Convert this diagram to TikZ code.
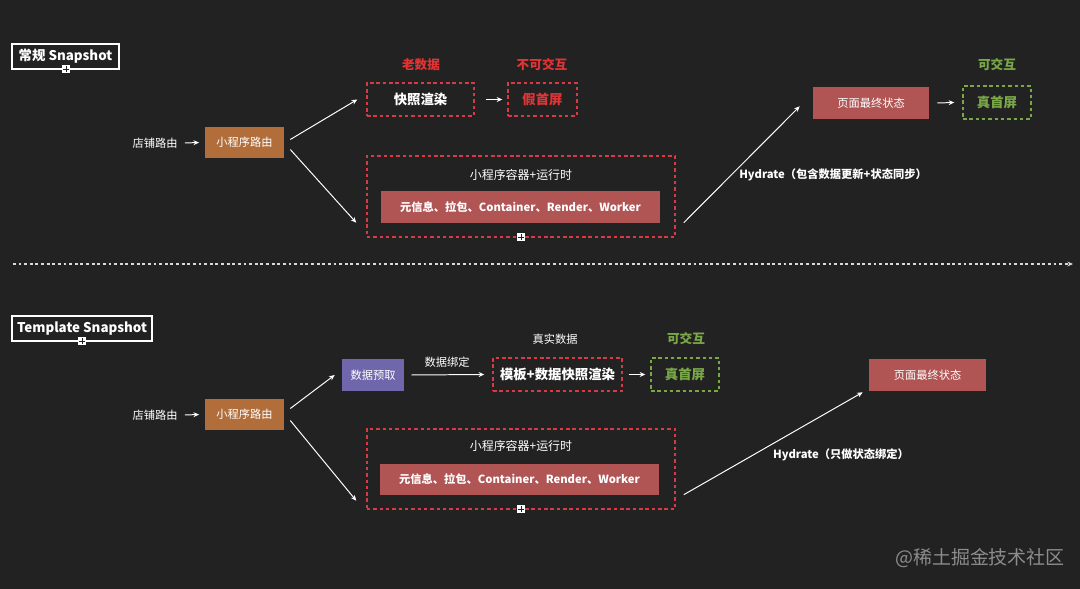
\documentclass[tikz,border=0pt]{standalone}
\usepackage{fontspec}
\setmainfont{Noto Sans CJK SC}
\usepackage{xcolor}
\usepackage{tikz}
\usetikzlibrary{arrows.meta, positioning}
\definecolor{bgdark}{RGB}{34,34,34}
\definecolor{dashred}{RGB}{214,58,68}
\definecolor{txtred}{RGB}{226,52,52}
\definecolor{fillred}{RGB}{176,84,84}
\definecolor{routebrown}{RGB}{178,110,58}
\definecolor{fetchpurple}{RGB}{112,102,172}
\definecolor{okgreen}{RGB}{122,168,72}
\newcommand{\fsz}[1]{\fontsize{#1}{#1}\selectfont}

\begin{document}
\begin{tikzpicture}[x=0.025cm, y=-0.025cm,
  txt/.style={text=white, font=\fsz{8}, inner sep=1pt},
  hint/.style={font=\bfseries\fsz{9}, inner sep=1pt},
  titlebox/.style={draw=white, line width=0.9pt, text=white, font=\bfseries\fsz{9.5},
    minimum width=#1, minimum height=0.625cm, inner sep=0pt},
  solidbox/.style={fill=#1, text=white, minimum height=0.8cm, inner sep=0pt, font=\fsz{8}},
  dashbox/.style={draw=#1, dashed, dash pattern=on 2.5pt off 2pt, line width=1pt,
    minimum height=0.825cm, inner sep=0pt, font=\bfseries\fsz{9.5}},
  plusmark/.style={fill=white, minimum size=0.2cm, inner sep=0pt,
    path picture={\draw[bgdark, line width=0.6pt]
      ([yshift=-1pt]path picture bounding box.north) -- ([yshift=1pt]path picture bounding box.south)
      ([xshift=1pt]path picture bounding box.west) -- ([xshift=-1pt]path picture bounding box.east);}},
  arr/.style={-{Stealth[length=4pt, width=3.5pt]}, white, line width=0.7pt}]

  \fill[bgdark] (0,0) rectangle (1080,589);
  \useasboundingbox (0,0) rectangle (1080,589);

  % ---- regular snapshot ----
  \node[titlebox=2.675cm] (title1) at (65.5,56.5) {常规 Snapshot};
  \node[plusmark] (pm1) at (66,69) {};

  \node[txt] (shop1) at (155,143) {店铺路由};
  \node[solidbox=routebrown, minimum width=1.975cm, minimum height=0.775cm] (route1) at (244.5,142.5) {小程序路由};
  \draw[arr] ([xshift=4pt]shop1.east) -- ([xshift=-4pt]route1.west);

  \node[dashbox=dashred, minimum width=2.675cm, text=white] (snap1) at (420.5,99.5) {快照渲染};
  \node[dashbox=dashred, minimum width=1.725cm, text=txtred] (fake1) at (542.5,99.5) {假首屏};
  \node[hint, text=txtred] (old1) at (421,65) {老数据};
  \node[hint, text=txtred] (noint1) at (542,65) {不可交互};
  \draw[arr] ([shift={(11,0)}]snap1.east) -- ([shift={(-5,0)}]fake1.west);

  % container + runtime
  \node[dashbox=dashred, minimum width=7.7cm, minimum height=2.025cm] (cont1) at (521,196.5) {};
  \node[txt, font=\fsz{8.5}] (contlbl1) at (521,175) {小程序容器+运行时};
  \node[solidbox=fillred, minimum width=6.975cm, font=\bfseries\fsz{8}] (meta1) at (520.5,207)
    {元信息、拉包、Container、Render、Worker};
  \node[plusmark] (pm2) at (521,237) {};

  \draw[arr] ([shift={(6,-3)}]route1.east) -- ([shift={(-9,0)}]snap1.west);
  \draw[arr] ([shift={(6,7)}]route1.east) -- ([shift={(-10,-15)}]cont1.south west);

  % hydrate to final state
  \node[solidbox=fillred, minimum width=2.9cm] (final1) at (871,103) {页面最终状态};
  \node[dashbox=okgreen, minimum width=1.7cm, text=okgreen] (real1) at (997,102.5) {真首屏};
  \node[hint, text=okgreen] (ok1) at (997,65) {可交互};
  \draw[arr] ([shift={(8,-15)}]cont1.south east) -- ([shift={(-13,-13)}]final1.south west);
  \node[txt, font=\bfseries\fsz{8}] (hyd1) at (833,175) {Hydrate（包含数据更新+状态同步）};
  \draw[arr] ([shift={(8,0)}]final1.east) -- ([shift={(-8,0)}]real1.west);

  % separator
  \coordinate (sepL) at (13,264);
  \coordinate (sepR) at (1073,264);
  \draw[white!85!black, line width=0.9pt, dash pattern=on 2pt off 2pt, -{Stealth[length=4pt, width=3.5pt]}] (sepL) -- (sepR);

  % ---- template snapshot ----
  \node[titlebox=3.5cm] (title2) at (82,328.5) {Template Snapshot};
  \node[plusmark] (pm3) at (82,341) {};

  \node[txt] (shop2) at (155,415) {店铺路由};
  \node[solidbox=routebrown, minimum width=1.975cm, minimum height=0.775cm] (route2) at (244.5,414.5) {小程序路由};
  \draw[arr] ([xshift=4pt]shop2.east) -- ([xshift=-4pt]route2.west);

  \node[solidbox=fetchpurple, minimum width=1.55cm] (fetch2) at (373,375) {数据预取};
  \node[dashbox=dashred, minimum width=3.225cm, text=white] (tmpl2) at (557.5,374.5) {模板+数据快照渲染};
  \node[dashbox=okgreen, minimum width=1.7cm, text=okgreen] (real2) at (685,374.5) {真首屏};
  \node[txt] (bind2) at (447,362) {数据绑定};
  \node[txt] (realdata2) at (555,339) {真实数据};
  \node[hint, text=okgreen] (ok2) at (686,339) {可交互};
  \draw[arr] ([shift={(7,0)}]fetch2.east) -- ([shift={(-8,0)}]tmpl2.west);
  \draw[arr] ([shift={(6,0)}]tmpl2.east) -- ([shift={(-5,0)}]real2.west);

  % container + runtime
  \node[dashbox=dashred, minimum width=7.7cm, minimum height=2.0cm] (cont2) at (521,469) {};
  \node[txt, font=\fsz{8.5}] (contlbl2) at (521,446) {小程序容器+运行时};
  \node[solidbox=fillred, minimum width=6.975cm, minimum height=0.775cm, font=\bfseries\fsz{8}] (meta2) at (519.5,479.5)
    {元信息、拉包、Container、Render、Worker};
  \node[plusmark] (pm4) at (521,509) {};

  \draw[arr] ([shift={(6,-6)}]route2.east) -- ([shift={(-7,0)}]fetch2.west);
  \draw[arr] ([shift={(6,6)}]route2.east) -- ([shift={(-10,-9)}]cont2.south west);

  % hydrate to final state
  \node[solidbox=fillred, minimum width=2.925cm] (final2) at (927.5,375) {页面最终状态};
  \draw[arr] ([shift={(8,-15)}]cont2.south east) -- ([shift={(-6,1)}]final2.south west);
  \node[txt, font=\bfseries\fsz{8}] (hyd2) at (841,455) {Hydrate（只做状态绑定）};

  \node[text=white!55!black, font=\fsz{13.5}, inner sep=0pt] (mark) at (980,558) {@稀土掘金技术社区};
\end{tikzpicture}
\end{document}
